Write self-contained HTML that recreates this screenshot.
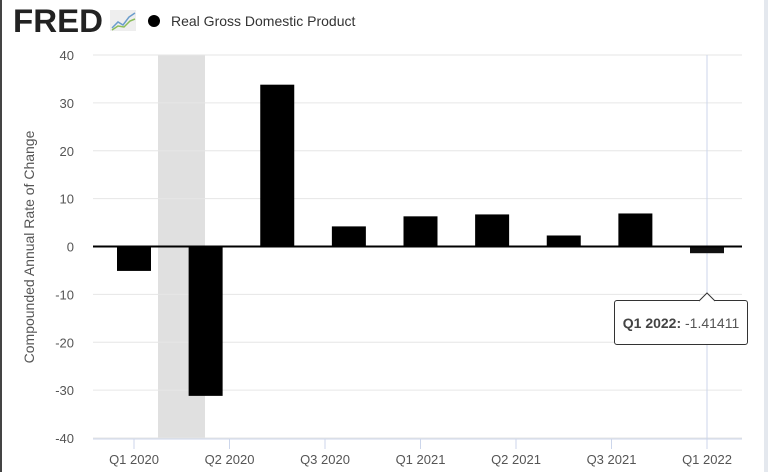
<!DOCTYPE html>
<html><head><meta charset="utf-8"><style>
body{margin:0;background:#fff;width:768px;height:472px;overflow:hidden;font-family:"Liberation Sans",sans-serif}
</style></head><body>
<svg width="768" height="472" style="position:absolute;left:0;top:0">
<rect x="0" y="0" width="2" height="472" fill="#444"/>
<rect x="764" y="0" width="4" height="472" fill="#e4e8ee"/>
<text x="13" y="32" font-size="32" font-weight="bold" fill="#222" textLength="90" lengthAdjust="spacingAndGlyphs">FRED</text>
<g>
<rect x="110" y="10" width="26" height="21" fill="#eee"/>
<polyline points="112,28 118,22 123,25 129,17 135,13" fill="none" stroke="#6a9ccc" stroke-width="1.5"/>
<polyline points="112,30 118,26 124,27 130,21 135,19" fill="none" stroke="#8bbd5a" stroke-width="1.5"/>
</g>
<circle cx="154" cy="21" r="6" fill="#000"/>
<text x="171" y="26" font-size="14" fill="#333">Real Gross Domestic Product</text>
<text transform="translate(34,247) rotate(-90)" text-anchor="middle" font-size="14" fill="#555">Compounded Annual Rate of Change</text>
<g id="grid"></g><g id="marks"></g>
</svg>
<div style="position:absolute;left:614px;top:300px;width:134px;height:45px;border:1px solid #333;border-radius:3px;background:#fff;box-sizing:border-box;font-size:14px;line-height:45px;text-align:center;color:#555"><b style="color:#444">Q1 2022:</b> -1.41411</div>
<svg width="20" height="10" style="position:absolute;left:699px;top:292px"><polyline points="0,9 8,1 16,9" fill="#fff" stroke="#333"/></svg>
<script>
const categories=["Q1 2020","Q2 2020","Q3 2020","Q4 2020","Q1 2021","Q2 2021","Q3 2021","Q4 2021","Q1 2022"];
const values=[-5.1,-31.2,33.8,4.2,6.3,6.7,2.3,6.9,-1.4];
const yTicks=[40,30,20,10,0,-10,-20,-30,-40];
const xTickLabels=["Q1 2020","Q2 2020","Q3 2020","Q1 2021","Q2 2021","Q3 2021","Q1 2022"];
const xTickIndex=[0,4/3,8/3,4,16/3,20/3,8];
const ns="http://www.w3.org/2000/svg";
const x=i=>134+i*(707-134)/8;
const y=v=>246.5-v*(383/80);
function mk(t,a,p){const e=document.createElementNS(ns,t);for(const k in a)e.setAttribute(k,a[k]);p.appendChild(e);return e;}
const g=document.getElementById('grid'),m=document.getElementById('marks');
const rec=mk('rect',{x:158,y:y(40),width:47,height:y(-40)-y(40),fill:'#e0e0e0'},g);


yTicks.forEach(v=>{
 const l=mk('line',{x1:93,x2:742,y1:y(v),y2:y(v),stroke:'#e6e6e6'},g);
 
 
 const t=mk('text',{x:74,y:y(v)+5,'text-anchor':'end','font-size':13,fill:'#555'},g);
 t.textContent=v;
 
 
});
const ax=mk('line',{x1:93,x2:742,y1:439,y2:439,stroke:'#ccd6eb'},g);


xTickLabels.forEach((s,k)=>{
 const px=x(xTickIndex[k]);
 const tk=mk('line',{x1:px,x2:px,y1:439,y2:449,stroke:'#ccd6eb'},g);
 
 
 const t=mk('text',{x:px,y:464,'text-anchor':'middle','font-size':13,fill:'#555'},g);
 t.textContent=s;
 
 
});
const hl=mk('line',{x1:707,x2:707,y1:y(40),y2:439,stroke:'#ccd6eb'},g);


values.forEach((v,i)=>{
 const top=Math.min(y(v),y(0)),h=Math.abs(y(v)-y(0));
 const r=mk('rect',{x:x(i)-17,y:top,width:34,height:h,fill:i==8?'#111':'#000'},m);
 
 
});
const zl=mk('line',{x1:93,x2:742,y1:y(0),y2:y(0),stroke:'#000','stroke-width':2},m);


</script>
</body></html>
